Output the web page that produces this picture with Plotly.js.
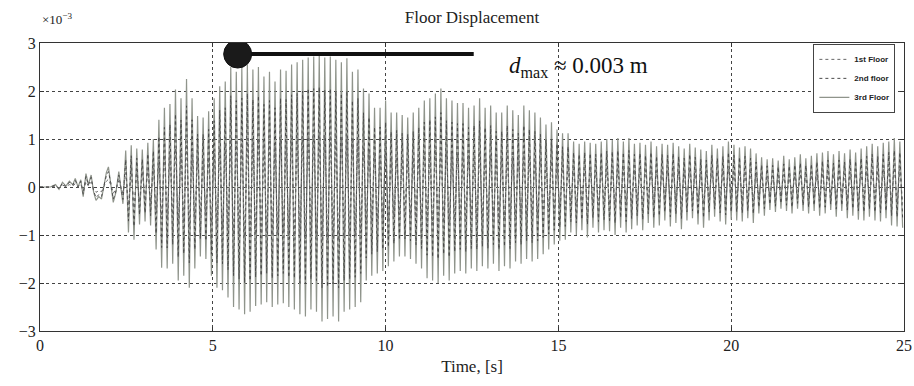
<!DOCTYPE html>
<html>
<head>
<meta charset="utf-8">
<script src="https://cdn.plot.ly/plotly-3.0.1.min.js"></script>
<style>
  html, body { margin: 0; padding: 0; background: #fff; }
  #chart { width: 914px; height: 386px; }
</style>
</head>
<body>
<div id="chart"></div>
<script>
// Sample times [s]
const timeS = [
  0, 0.30, 0.45, 0.55, 0.65, 0.75, 0.85, 0.95, 1.02, 1.10, 1.18, 1.25, 1.33, 1.40, 1.48, 1.55, 1.62, 1.70, 1.78, 1.85, 1.92, 1.98, 2.05, 2.12, 2.20, 2.28,
  2.40, 2.48, 2.56, 2.64, 2.72, 2.80, 2.88, 2.96, 3.04, 3.12, 3.20, 3.28, 3.36, 3.44, 3.52, 3.60, 3.68, 3.76, 3.84, 3.92, 4.00, 4.08, 4.16, 4.24, 4.32,
  4.40, 4.48, 4.56, 4.64, 4.72, 4.80, 4.88, 4.96, 5.04, 5.12, 5.20, 5.28, 5.36, 5.44, 5.52, 5.60, 5.68, 5.76, 5.84, 5.92, 6.00, 6.08, 6.16, 6.24, 6.32,
  6.40, 6.48, 6.56, 6.64, 6.72, 6.80, 6.88, 6.96, 7.04, 7.12, 7.20, 7.28, 7.36, 7.44, 7.52, 7.60, 7.68, 7.76, 7.84, 7.92, 8.00, 8.08, 8.16, 8.24, 8.32,
  8.40, 8.48, 8.56, 8.64, 8.72, 8.80, 8.88, 8.96, 9.04, 9.12, 9.20, 9.28, 9.36, 9.44, 9.52, 9.60, 9.68, 9.76, 9.84, 9.92, 10.00, 10.08, 10.16, 10.24, 10.32,
  10.40, 10.48, 10.56, 10.64, 10.72, 10.80, 10.88, 10.96, 11.04, 11.12, 11.20, 11.28, 11.36, 11.44, 11.52, 11.60, 11.68, 11.76, 11.84, 11.92, 12.00, 12.08, 12.16, 12.24, 12.32,
  12.40, 12.48, 12.56, 12.64, 12.72, 12.80, 12.88, 12.96, 13.04, 13.12, 13.20, 13.28, 13.36, 13.44, 13.52, 13.60, 13.68, 13.76, 13.84, 13.92, 14.00, 14.08, 14.16, 14.24, 14.32,
  14.40, 14.48, 14.56, 14.64, 14.72, 14.80, 14.88, 14.96, 15.04, 15.12, 15.20, 15.28, 15.36, 15.44, 15.52, 15.60, 15.68, 15.76, 15.84, 15.92, 16.00, 16.08, 16.16, 16.24, 16.32,
  16.40, 16.48, 16.56, 16.64, 16.72, 16.80, 16.88, 16.96, 17.04, 17.12, 17.20, 17.28, 17.36, 17.44, 17.52, 17.60, 17.68, 17.76, 17.84, 17.92, 18.00, 18.08, 18.16, 18.24, 18.32,
  18.40, 18.48, 18.56, 18.64, 18.72, 18.80, 18.88, 18.96, 19.04, 19.12, 19.20, 19.28, 19.36, 19.44, 19.52, 19.60, 19.68, 19.76, 19.84, 19.92, 20.00, 20.08, 20.16, 20.24, 20.32,
  20.40, 20.48, 20.56, 20.64, 20.72, 20.80, 20.88, 20.96, 21.04, 21.12, 21.20, 21.28, 21.36, 21.44, 21.52, 21.60, 21.68, 21.76, 21.84, 21.92, 22.00, 22.08, 22.16, 22.24, 22.32,
  22.40, 22.48, 22.56, 22.64, 22.72, 22.80, 22.88, 22.96, 23.04, 23.12, 23.20, 23.28, 23.36, 23.44, 23.52, 23.60, 23.68, 23.76, 23.84, 23.92, 24.00, 24.08, 24.16, 24.24, 24.32,
  24.40, 24.48, 24.56, 24.64, 24.72, 24.80, 24.88, 24.96
];

// Displacement of each floor, in units of 1e-3 m
const floor1 = [
  0, 0, 0.02, -0.02, 0.04, 0.01, 0.05, 0.02, 0.07, 0.0, 0.06, -0.08, 0.11, 0.02, 0.1, -0.04, -0.11, -0.08, -0.1, 0.02, 0.12, 0.16, 0.04, -0.13, -0.04, 0.13,
  -0.14, 0.3, -0.38, 0.35, -0.44, 0.32, -0.31, 0.31, -0.29, 0.37, -0.32, 0.4, -0.52, 0.56, -0.67, 0.66, -0.68, 0.69, -0.64, 0.81, -0.78, 0.74, -0.74, 0.9, -0.84,
  0.72, -0.7, 0.6, -0.58, 0.58, -0.6, 0.62, -0.75, 0.74, -0.85, 0.82, -0.88, 0.9, -0.92, 1.0, -1.0, 0.95, -1.02, 1.0, -1.05, 1.02, -1.05, 0.98, -1.0, 1.0,
  -0.98, 0.92, -0.96, 0.95, -1.0, 0.88, -0.98, 0.98, -0.96, 0.97, -1.0, 1.02, -1.02, 1.05, -1.06, 1.06, -1.08, 1.08, -1.02, 1.1, -1.04, 1.1, -1.12, 1.08, -1.1,
  1.08, -1.08, 1.06, -1.12, 1.04, -1.04, 1.07, -1.02, 0.96, -1.0, 0.98, -0.96, 0.82, -0.78, 0.78, -0.74, 0.66, -0.72, 0.66, -0.7, 0.72, -0.66, 0.62, -0.62, 0.62,
  -0.58, 0.6, -0.58, 0.58, -0.6, 0.62, -0.64, 0.66, -0.68, 0.72, -0.76, 0.74, -0.78, 0.78, -0.8, 0.82, -0.74, 0.74, -0.78, 0.72, -0.72, 0.7, -0.7, 0.7, -0.72,
  0.66, -0.68, 0.68, -0.7, 0.74, -0.66, 0.66, -0.68, 0.68, -0.64, 0.62, -0.7, 0.62, -0.66, 0.68, -0.68, 0.64, -0.62, 0.6, -0.64, 0.68, -0.6, 0.64, -0.62, 0.62,
  -0.6, 0.58, -0.56, 0.52, -0.52, 0.54, -0.48, 0.48, -0.45, 0.45, -0.44, 0.45, -0.38, 0.38, -0.4, 0.36, -0.36, 0.38, -0.42, 0.37, -0.34, 0.36, -0.38, 0.38, -0.36,
  0.4, -0.37, 0.39, -0.4, 0.41, -0.34, 0.38, -0.38, 0.41, -0.35, 0.36, -0.32, 0.37, -0.36, 0.35, -0.3, 0.38, -0.34, 0.34, -0.32, 0.36, -0.28, 0.35, -0.33, 0.37,
  -0.3, 0.34, -0.35, 0.32, -0.28, 0.36, -0.26, 0.33, -0.31, 0.31, -0.34, 0.3, -0.28, 0.35, -0.25, 0.32, -0.29, 0.34, -0.31, 0.38, -0.27, 0.35, -0.28, 0.33, -0.29,
  0.34, -0.26, 0.32, -0.3, 0.28, -0.22, 0.25, -0.24, 0.23, -0.19, 0.24, -0.21, 0.22, -0.18, 0.26, -0.2, 0.23, -0.22, 0.25, -0.18, 0.27, -0.2, 0.24, -0.22, 0.26,
  -0.2, 0.28, -0.24, 0.29, -0.22, 0.3, -0.19, 0.27, -0.25, 0.3, -0.2, 0.28, -0.26, 0.31, -0.24, 0.29, -0.27, 0.32, -0.28, 0.34, -0.25, 0.36, -0.28, 0.34, -0.29,
  0.37, -0.26, 0.38, -0.32, 0.41, -0.33, 0.38, -0.34
];

const floor2 = [
  0, 0, 0.04, -0.04, 0.08, 0.01, 0.1, 0.04, 0.14, 0.0, 0.12, -0.15, 0.22, 0.04, 0.2, -0.08, -0.22, -0.16, -0.2, 0.04, 0.24, 0.32, 0.08, -0.25, -0.08, 0.25,
  -0.26, 0.57, -0.71, 0.65, -0.82, 0.6, -0.58, 0.58, -0.54, 0.69, -0.6, 0.75, -0.97, 1.05, -1.26, 1.24, -1.27, 1.3, -1.2, 1.52, -1.46, 1.39, -1.39, 1.69, -1.58,
  1.4, -1.3, 1.1, -1.08, 1.1, -1.12, 1.2, -1.4, 1.38, -1.58, 1.6, -1.6, 1.65, -1.72, 1.9, -1.85, 1.8, -1.92, 1.85, -2.0, 1.95, -1.95, 1.82, -1.88, 1.9,
  -1.85, 1.72, -1.8, 1.8, -1.9, 1.65, -1.85, 1.85, -1.8, 1.82, -1.88, 1.92, -1.9, 1.95, -2.0, 2.0, -2.02, 2.05, -1.92, 2.05, -1.95, 2.08, -2.1, 2.02, -2.08,
  2.05, -2.02, 2.0, -2.1, 1.95, -1.95, 2.0, -1.92, 1.8, -1.88, 1.85, -1.8, 1.55, -1.48, 1.45, -1.4, 1.25, -1.35, 1.25, -1.3, 1.35, -1.25, 1.15, -1.18, 1.18,
  -1.1, 1.12, -1.08, 1.1, -1.12, 1.16, -1.2, 1.24, -1.28, 1.35, -1.42, 1.4, -1.46, 1.46, -1.5, 1.55, -1.4, 1.38, -1.46, 1.35, -1.35, 1.32, -1.3, 1.32, -1.35,
  1.24, -1.28, 1.28, -1.3, 1.38, -1.24, 1.24, -1.28, 1.28, -1.2, 1.16, -1.3, 1.16, -1.24, 1.28, -1.28, 1.2, -1.16, 1.12, -1.2, 1.28, -1.12, 1.2, -1.16, 1.16,
  -1.12, 1.1, -1.05, 0.98, -0.98, 1.0, -0.9, 0.9, -0.84, 0.84, -0.82, 0.84, -0.72, 0.72, -0.75, 0.68, -0.68, 0.72, -0.78, 0.7, -0.64, 0.68, -0.72, 0.72, -0.68,
  0.75, -0.7, 0.74, -0.75, 0.76, -0.64, 0.72, -0.72, 0.76, -0.66, 0.68, -0.6, 0.7, -0.68, 0.66, -0.56, 0.72, -0.64, 0.64, -0.6, 0.68, -0.52, 0.66, -0.62, 0.7,
  -0.56, 0.64, -0.66, 0.6, -0.52, 0.68, -0.5, 0.62, -0.58, 0.58, -0.64, 0.56, -0.52, 0.66, -0.46, 0.6, -0.54, 0.64, -0.58, 0.72, -0.52, 0.66, -0.52, 0.62, -0.54,
  0.64, -0.5, 0.6, -0.56, 0.52, -0.42, 0.46, -0.45, 0.44, -0.36, 0.45, -0.4, 0.42, -0.34, 0.48, -0.38, 0.44, -0.42, 0.46, -0.34, 0.5, -0.38, 0.45, -0.42, 0.48,
  -0.38, 0.52, -0.45, 0.54, -0.42, 0.56, -0.36, 0.5, -0.46, 0.56, -0.38, 0.52, -0.48, 0.58, -0.45, 0.54, -0.5, 0.6, -0.52, 0.64, -0.46, 0.68, -0.52, 0.64, -0.54,
  0.68, -0.5, 0.72, -0.6, 0.76, -0.62, 0.72, -0.64
];

const floor3 = [
  0, 0, 0.05, -0.05, 0.1, 0.02, 0.12, 0.05, 0.18, 0.0, 0.15, -0.2, 0.28, 0.05, 0.25, -0.1, -0.28, -0.2, -0.25, 0.05, 0.3, 0.42, 0.1, -0.32, -0.1, 0.32,
  -0.35, 0.76, -0.95, 0.87, -1.1, 0.8, -0.78, 0.78, -0.72, 0.92, -0.8, 1.0, -1.3, 1.4, -1.68, 1.65, -1.7, 1.73, -1.6, 2.03, -1.95, 1.85, -1.85, 2.25, -2.1,
  1.85, -1.7, 1.48, -1.45, 1.45, -1.5, 1.58, -1.85, 1.85, -2.1, 2.1, -2.15, 2.2, -2.3, 2.5, -2.5, 2.4, -2.55, 2.5, -2.65, 2.55, -2.6, 2.45, -2.48, 2.5,
  -2.45, 2.3, -2.4, 2.4, -2.5, 2.2, -2.45, 2.45, -2.42, 2.42, -2.5, 2.55, -2.55, 2.6, -2.65, 2.65, -2.7, 2.7, -2.55, 2.72, -2.6, 2.75, -2.8, 2.7, -2.75,
  2.72, -2.7, 2.65, -2.8, 2.6, -2.6, 2.68, -2.55, 2.4, -2.5, 2.45, -2.4, 2.05, -1.95, 1.95, -1.85, 1.65, -1.8, 1.65, -1.75, 1.8, -1.65, 1.55, -1.55, 1.55,
  -1.45, 1.5, -1.45, 1.45, -1.5, 1.55, -1.6, 1.65, -1.7, 1.8, -1.9, 1.85, -1.95, 1.95, -2.0, 2.05, -1.85, 1.85, -1.95, 1.8, -1.8, 1.75, -1.75, 1.75, -1.8,
  1.65, -1.7, 1.7, -1.75, 1.85, -1.65, 1.65, -1.7, 1.7, -1.6, 1.55, -1.75, 1.55, -1.65, 1.7, -1.7, 1.6, -1.55, 1.5, -1.6, 1.7, -1.5, 1.6, -1.55, 1.55,
  -1.5, 1.45, -1.4, 1.3, -1.3, 1.35, -1.2, 1.2, -1.12, 1.12, -1.1, 1.12, -0.95, 0.95, -1.0, 0.9, -0.9, 0.95, -1.05, 0.92, -0.85, 0.9, -0.95, 0.95, -0.9,
  1.0, -0.92, 0.98, -1.0, 1.02, -0.85, 0.95, -0.95, 1.02, -0.88, 0.9, -0.8, 0.92, -0.9, 0.88, -0.75, 0.95, -0.85, 0.85, -0.8, 0.9, -0.7, 0.88, -0.82, 0.92,
  -0.75, 0.85, -0.88, 0.8, -0.7, 0.9, -0.65, 0.82, -0.78, 0.78, -0.85, 0.75, -0.7, 0.88, -0.62, 0.8, -0.72, 0.85, -0.78, 0.95, -0.68, 0.88, -0.7, 0.82, -0.72,
  0.85, -0.65, 0.8, -0.75, 0.7, -0.55, 0.62, -0.6, 0.58, -0.48, 0.6, -0.52, 0.55, -0.45, 0.65, -0.5, 0.58, -0.55, 0.62, -0.45, 0.68, -0.5, 0.6, -0.55, 0.65,
  -0.5, 0.7, -0.6, 0.72, -0.55, 0.75, -0.48, 0.68, -0.62, 0.75, -0.5, 0.7, -0.65, 0.78, -0.6, 0.72, -0.68, 0.8, -0.7, 0.85, -0.62, 0.9, -0.7, 0.85, -0.72,
  0.92, -0.65, 0.95, -0.8, 1.02, -0.82, 0.95, -0.85
];

const floorNames = ['1st Floor', '2nd floor', '3rd Floor'];
const xTicks = [0, 5, 10, 15, 20, 25];
const yTicks = [-3, -2, -1, 0, 1, 2, 3];

// Peak marker and its leader line (time [s], displacement [1e-3 m])
const peakMarkT = 5.72;
const peakMarkV = 2.77;
const leaderEndT = 12.55;

const serif = 'Liberation Serif, Times New Roman, serif';

const traces = [
  { x: timeS, y: floor3, name: floorNames[2], type: 'scatter', mode: 'lines',
    line: { color: '#8f948b', width: 1.2 } },
  { x: timeS, y: floor2, name: floorNames[1], type: 'scatter', mode: 'lines',
    line: { color: '#4a4a4a', width: 1, dash: 'dot' } },
  { x: timeS, y: floor1, name: floorNames[0], type: 'scatter', mode: 'lines',
    line: { color: '#666666', width: 1, dash: 'dot' } }
];

const axisCommon = {
  showline: true, mirror: 'ticks', linecolor: '#333', linewidth: 1,
  ticks: 'inside', ticklen: 4, tickcolor: '#333',
  showgrid: true, gridcolor: '#444', griddash: 'dot', gridwidth: 1,
  zeroline: false,
  tickfont: { family: serif, size: 16, color: '#222' }
};

const layout = {
  width: 914, height: 386,
  margin: { l: 40, r: 10, t: 43, b: 55 },
  paper_bgcolor: '#fff', plot_bgcolor: '#fff',
  title: { text: 'Floor Displacement', font: { family: serif, size: 17, color: '#222' },
           xref: 'paper', x: 0.5, y: 0.955, yanchor: 'middle' },
  xaxis: Object.assign({}, axisCommon, {
    range: [0, 25], tickvals: xTicks,
    title: { text: 'Time, [s]', font: { family: serif, size: 17, color: '#222' }, standoff: 6 }
  }),
  yaxis: Object.assign({}, axisCommon, {
    range: [-3, 3], tickvals: yTicks
  }),
  legend: {
    x: 0.99, xanchor: 'right', y: 0.997, yanchor: 'top',
    bgcolor: '#fff', bordercolor: '#444', borderwidth: 1,
    font: { family: 'Liberation Sans, Arial, sans-serif', size: 8, color: '#222', weight: 'bold' },
    traceorder: 'reversed', itemwidth: 30
  },
  showlegend: true,
  annotations: [
    { xref: 'paper', yref: 'paper', x: 0, y: 1, xanchor: 'left', yanchor: 'bottom', yshift: 14,
      text: '×10<sup>−3</sup>', showarrow: false,
      font: { family: serif, size: 13, color: '#222' } },
    { xref: 'x', yref: 'y', x: 13.5, y: 2.5, xanchor: 'left', yanchor: 'middle',
      text: '<i>d</i><sub>max</sub> ≈ 0.003 m', showarrow: false,
      font: { family: serif, size: 23, color: '#111' } }
  ],
  shapes: [
    { type: 'line', xref: 'x', yref: 'y', x0: peakMarkT, x1: leaderEndT, y0: peakMarkV, y1: peakMarkV,
      line: { color: '#111', width: 4 } },
    { type: 'circle', xref: 'x', yref: 'y', xsizemode: 'pixel', ysizemode: 'pixel',
      xanchor: peakMarkT, yanchor: peakMarkV, x0: -14, x1: 14, y0: -14, y1: 14,
      fillcolor: '#1a1a1a', line: { color: '#111', width: 1 } }
  ]
};

Plotly.newPlot('chart', traces, layout, { staticPlot: true, displayModeBar: false });
</script>
</body>
</html>
